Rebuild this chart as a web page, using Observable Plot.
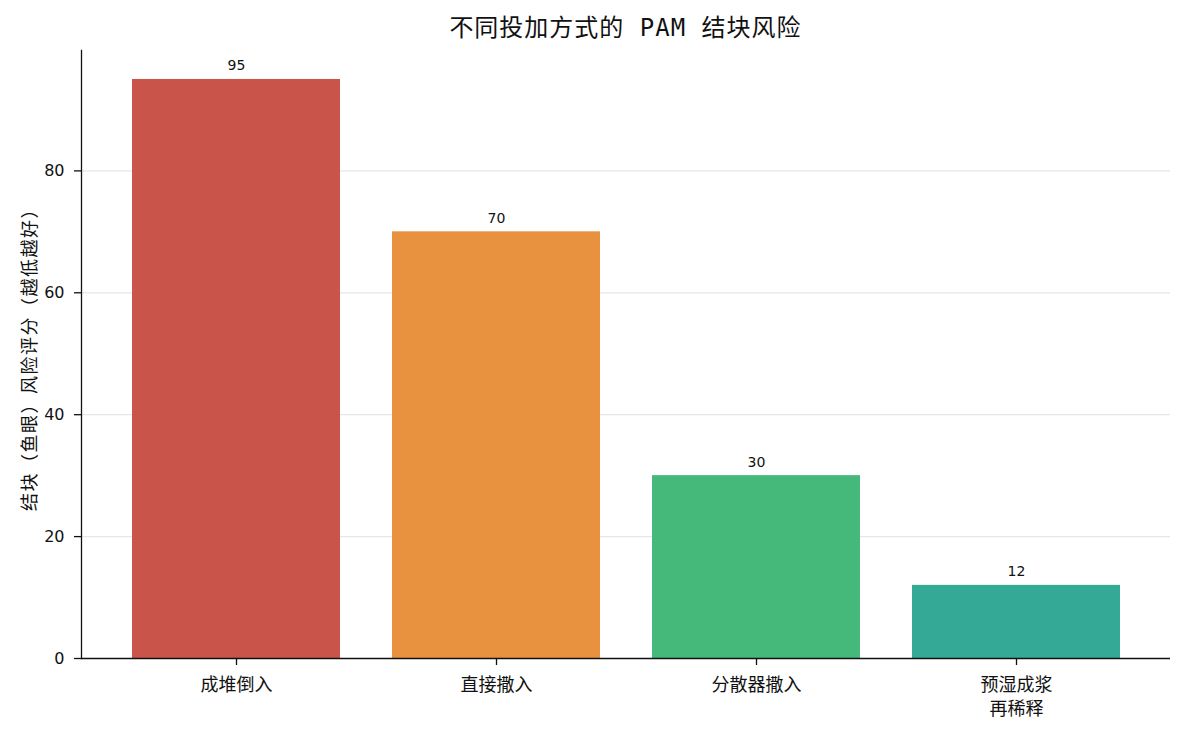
<!DOCTYPE html>
<html><head><meta charset="utf-8">
<script src="https://cdn.jsdelivr.net/npm/d3@7"></script>
<script src="https://cdn.jsdelivr.net/npm/@observablehq/plot@0.6"></script>
<style>
body{margin:0;background:#fff;font-family:"DejaVu Sans","Noto Sans CJK SC",sans-serif;position:relative;}
#title{height:40px;box-sizing:border-box;padding:13px 16px 0 81px;text-align:center;font-size:24px;line-height:30px;color:#111;font-family:"DejaVu Sans Mono","Noto Sans CJK SC",sans-serif;letter-spacing:1px;}
</style></head>
<body>
<div id="title">不同投加方式的 PAM 结块风险</div>
<div id="chart"></div>
<script>
const categories = ["成堆倒入", "直接撒入", "分散器撒入", "预湿成浆\n再稀释"];
const values = [95, 70, 30, 12];
const colors = ["#c8544a", "#e8913f", "#44b97a", "#33a996"];
const yTicks = [0, 20, 40, 60, 80];
const data = categories.map((c, i) => ({cat: c, v: values[i], col: colors[i]}));

const chart = Plot.plot({
  width: 1186,
  height: 695,
  marginLeft: 81,
  marginRight: 16,
  marginTop: 10,
  marginBottom: 77,
  style: {fontFamily: '"DejaVu Sans", "Noto Sans CJK SC", sans-serif', fontSize: "16px", color: "#111", background: "#fff"},
  x: {domain: categories, paddingInner: 0.2, paddingOuter: 0.19, label: null},
  y: {domain: [0, 99.75], label: null},
  marks: [
    Plot.gridY(yTicks.filter(d => d > 0), {stroke: "#e6e6e6", strokeOpacity: 1, strokeWidth: 1.3}),
    Plot.barY(data, {x: "cat", y: "v", fill: "col"}),
    Plot.text(data, {x: "cat", y: "v", text: d => String(d.v), lineAnchor: "bottom", dy: -9, fontSize: 14, fill: "#111"}),
    Plot.frame({anchor: "left", stroke: "#111", strokeWidth: 1.3}),
    Plot.ruleY([0], {stroke: "#111", strokeWidth: 1.3}),
    Plot.axisX({fontSize: 18, fontFamily: '"Noto Sans CJK SC", sans-serif', tickSize: 7, tickPadding: 9, lineHeight: 1.3, stroke: "#111", fill: "#111", strokeWidth: 1.3, label: null}),
    Plot.axisY({ticks: yTicks, fontSize: 16, tickSize: 7, tickPadding: 10, stroke: "#111", fill: "#111", strokeWidth: 1.3, label: null})
  ]
});
document.getElementById("chart").appendChild(chart);

// y-axis title
const lab = document.createElement("div");
lab.textContent = "结块（鱼眼）风险评分（越低越好）";
lab.style.cssText = "position:absolute;left:28px;top:355px;transform:translate(-50%,-50%) rotate(-90deg);white-space:nowrap;font-size:18px;letter-spacing:1.5px;color:#111;font-family:'Noto Sans CJK SC',sans-serif;";
document.body.appendChild(lab);
</script>
</body></html>
